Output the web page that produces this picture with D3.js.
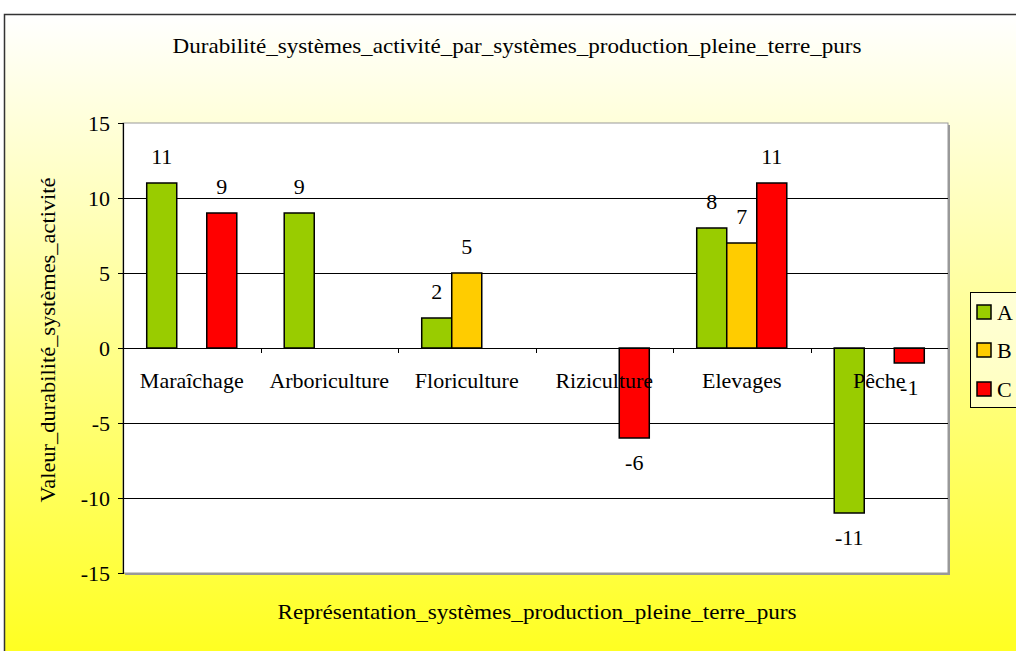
<!DOCTYPE html>
<meta charset="utf-8">
<style>
body { margin: 0; background: #fff; }
svg text { font-family: "Liberation Serif", "Times New Roman", serif; font-size: 22px; fill: #000; }
</style>
<body>
<svg id="chart" width="1016" height="651"></svg>
<script src="https://d3js.org/d3.v7.min.js"></script>
<script>
// categories and series
var categories = ["Maraîchage", "Arboriculture", "Floriculture", "Riziculture", "Elevages", "Pêche"];
var seriesNames = ["A", "B", "C"];
var seriesColors = ["#99CC00", "#FFCC00", "#FF0000"];
var valuesA = [11, 9, 2, null, 8, -11];
var valuesB = [null, null, 5, null, 7, null];
var valuesC = [9, null, null, -6, 11, -1];
var yTicks = [-15, -10, -5, 0, 5, 10, 15];

var svg = d3.select("#chart");

var defs = svg.append("defs");
var grad = defs.append("linearGradient")
    .attr("id", "bg").attr("x1", 0).attr("y1", 0).attr("x2", 0).attr("y2", 1);
grad.append("stop").attr("offset", "0%").attr("stop-color", "#FFFFFF");
grad.append("stop").attr("offset", "100%").attr("stop-color", "#FFFF1A");

var lgrad = defs.append("linearGradient")
    .attr("id", "lg").attr("x1", 0).attr("y1", 0).attr("x2", 0).attr("y2", 1);
lgrad.append("stop").attr("offset", "0%").attr("stop-color", "#FFFFD8");
lgrad.append("stop").attr("offset", "100%").attr("stop-color", "#FFFFBE");

// chart area background
svg.append("rect")
    .attr("x", 4.5).attr("y", 14.5).attr("width", 1030).attr("height", 660)
    .attr("fill", "url(#bg)").attr("stroke", "#333").attr("stroke-width", 1.5);

var plot = {left: 123, right: 948, top: 123, bottom: 573};

var x = d3.scaleBand().domain(categories).range([plot.left, plot.right]).padding(0);
var groupW = x.bandwidth() * 0.655;
var xs = d3.scaleBand().domain(seriesNames)
    .range([(x.bandwidth() - groupW) / 2, (x.bandwidth() + groupW) / 2]);
var y = d3.scaleLinear().domain([-15, 15]).range([plot.bottom, plot.top]);

// plot area with shadow
svg.append("rect")
    .attr("x", plot.left + 2).attr("y", plot.top + 2)
    .attr("width", plot.right - plot.left).attr("height", plot.bottom - plot.top)
    .attr("fill", "#999");
svg.append("rect")
    .attr("x", plot.left).attr("y", plot.top)
    .attr("width", plot.right - plot.left).attr("height", plot.bottom - plot.top)
    .attr("fill", "#fff").attr("stroke", "#999").attr("stroke-width", 1);

// gridlines
svg.append("g").selectAll("line")
    .data(yTicks.filter(function (d) { return d > -15 && d < 15; }))
    .enter().append("line")
    .attr("x1", plot.left).attr("x2", plot.right)
    .attr("y1", function (d) { return Math.round(y(d)) + 0.5; })
    .attr("y2", function (d) { return Math.round(y(d)) + 0.5; })
    .attr("stroke", "#000").attr("stroke-width", 1);

// y axis
var yAxis = svg.append("g")
    .attr("transform", "translate(" + plot.left + ",0)")
    .call(d3.axisLeft(y).tickValues(yTicks).tickSize(5).tickPadding(8)
        .tickFormat(function (d) { return String(d); }));
yAxis.select(".domain").attr("stroke", "#000").attr("stroke-width", 1.2);
yAxis.selectAll(".tick line").attr("stroke", "#000");
yAxis.selectAll("text")
    .style("font-family", "Liberation Serif, Times New Roman, serif")
    .style("font-size", "22px").attr("fill", "#000");

// category boundary ticks on zero line
svg.append("g").selectAll("line")
    .data(categories.slice(1))
    .enter().append("line")
    .attr("x1", function (d) { return Math.round(x(d)) + 0.5; })
    .attr("x2", function (d) { return Math.round(x(d)) + 0.5; })
    .attr("y1", y(0)).attr("y2", y(0) + 5)
    .attr("stroke", "#000");

// bars
var allSeries = [valuesA, valuesB, valuesC];
var barData = [];
allSeries.forEach(function (vals, si) {
    vals.forEach(function (v, ci) {
        if (v !== null) barData.push({cat: categories[ci], s: seriesNames[si], color: seriesColors[si], v: v});
    });
});

svg.append("g").selectAll("rect")
    .data(barData)
    .enter().append("rect")
    .attr("x", function (d) { return x(d.cat) + xs(d.s); })
    .attr("width", xs.bandwidth())
    .attr("y", function (d) { return y(Math.max(0, d.v)); })
    .attr("height", function (d) { return Math.abs(y(d.v) - y(0)); })
    .attr("fill", function (d) { return d.color; })
    .attr("stroke", "#000").attr("stroke-width", 1.5);

// zero line
svg.append("line")
    .attr("x1", plot.left).attr("x2", plot.right)
    .attr("y1", y(0) + 0.5).attr("y2", y(0) + 0.5)
    .attr("stroke", "#000").attr("stroke-width", 1);

// category labels
svg.append("g").selectAll("text")
    .data(categories)
    .enter().append("text")
    .attr("x", function (d) { return x(d) + x.bandwidth() / 2; })
    .attr("y", y(0) + 40)
    .attr("text-anchor", "middle")
    .text(function (d) { return d; });

// data labels
svg.append("g").selectAll("text")
    .data(barData)
    .enter().append("text")
    .attr("x", function (d) { return x(d.cat) + xs(d.s) + xs.bandwidth() / 2; })
    .attr("y", function (d) { return d.v >= 0 ? y(d.v) - 19 : y(d.v) + 32; })
    .attr("text-anchor", "middle")
    .text(function (d) { return d.v; });

// titles
svg.append("text")
    .attr("x", 517).attr("y", 53).attr("text-anchor", "middle")
    .attr("textLength", 689).attr("lengthAdjust", "spacingAndGlyphs")
    .text("Durabilité_systèmes_activité_par_systèmes_production_pleine_terre_purs");
svg.append("text")
    .attr("x", 537).attr("y", 619).attr("text-anchor", "middle")
    .attr("textLength", 519).attr("lengthAdjust", "spacingAndGlyphs")
    .text("Représentation_systèmes_production_pleine_terre_purs");
svg.append("text")
    .attr("transform", "translate(55,340) rotate(-90)")
    .attr("text-anchor", "middle")
    .attr("textLength", 325).attr("lengthAdjust", "spacingAndGlyphs")
    .text("Valeur_durabilité_systèmes_activité");

// legend
var legend = svg.append("g");
legend.append("rect")
    .attr("x", 970.5).attr("y", 292.5).attr("width", 60).attr("height", 115)
    .attr("fill", "url(#lg)").attr("stroke", "#000").attr("stroke-width", 1);
var items = legend.selectAll("g.item")
    .data(seriesNames)
    .enter().append("g").attr("class", "item")
    .attr("transform", function (d, i) { return "translate(977," + [305, 343, 382][i] + ")"; });
items.append("rect")
    .attr("width", 14).attr("height", 14)
    .attr("fill", function (d, i) { return seriesColors[i]; })
    .attr("stroke", "#000").attr("stroke-width", 1.5);
items.append("text")
    .attr("x", 20).attr("y", 15)
    .text(function (d) { return d; });
</script>
</body>
